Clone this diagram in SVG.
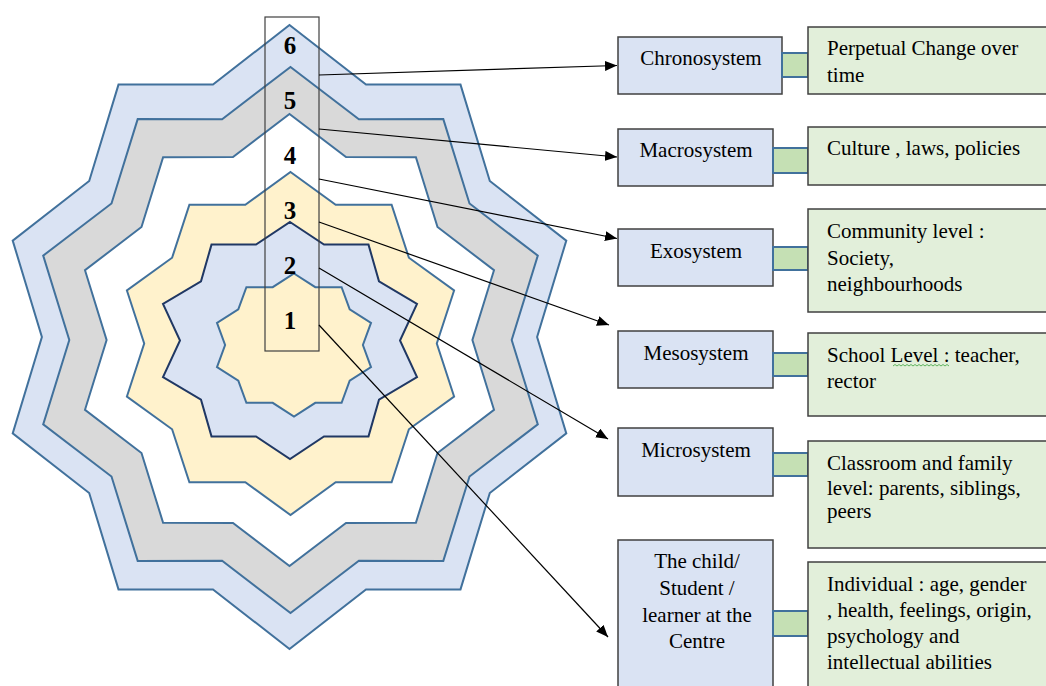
<svg xmlns="http://www.w3.org/2000/svg" width="1046" height="686" viewBox="0 0 1046 686">
<defs>
<style>
.ring{stroke:#41719C;stroke-width:2;stroke-linejoin:miter}
.num{font-family:"Liberation Serif",serif;font-weight:bold;font-size:25px;fill:#000;text-anchor:middle}
.sys{fill:#DAE3F3;stroke:#404040;stroke-width:1.5}
.desc{fill:#E2EFDA;stroke:#404040;stroke-width:1.5}
.link{fill:#C5E0B4;stroke:#41719C;stroke-width:2}
.lbl{font-family:"Liberation Serif",serif;font-size:21px;fill:#000}
.c{text-anchor:middle}
.arrow{fill:none;stroke:#000;stroke-width:1.2}
</style>
<marker id="ah" markerUnits="userSpaceOnUse" markerWidth="14" markerHeight="11" refX="12" refY="5" orient="auto">
<path d="M0,0 L12,5 L0,10 z" fill="#000"/>
</marker>
</defs>
<rect width="1046" height="686" fill="#fff"/>
<g id="layers">
<polygon id="layer6" class="ring" fill="#DAE3F3" points="289.5,25 366,84.6 460.5,84.6 489.8,181 566.3,240.6 537.1,337 566.3,433.4 489.8,493 460.5,589.4 366,589.4 289.5,649 213,589.4 118.5,589.4 89.2,493 12.7,433.4 41.9,337 12.7,240.6 89.2,181 118.5,84.6 213,84.6"/>
<polygon id="layer5" class="ring" fill="#D9D9D9" points="290.5,67 358.9,119.2 443.3,119.1 469.5,203.5 537.8,255.6 511.7,340 537.8,424.4 469.5,476.5 443.3,560.9 358.9,560.8 290.5,613 222.1,560.8 137.7,560.9 111.5,476.5 43.2,424.4 69.3,340 43.2,255.6 111.5,203.5 137.7,119.1 222.1,119.2"/>
<polygon id="layer4" class="ring" fill="#FFFFFF" points="289.5,114 346,157.1 415.9,157.2 437.5,227 494,270.2 472.4,340 494,409.8 437.5,453 415.9,522.8 346,522.9 289.5,566 233,522.9 163.1,522.8 141.5,453 85,409.8 106.6,340 85,270.2 141.5,227 163.1,157.2 233,157.1"/>
<polygon id="layer3" class="ring" fill="#FFF2CC" points="290.5,172 335.7,204.7 391.6,204.8 408.9,257.7 454.1,290.5 436.8,343.5 454.1,396.5 408.9,429.3 391.6,482.2 335.7,482.3 290.5,515 245.3,482.3 189.4,482.2 172.1,429.3 126.9,396.5 144.2,343.5 126.9,290.5 172.1,257.7 189.4,204.8 245.3,204.7"/>
<polygon id="layer2" fill="#DAE3F3" stroke="#203864" stroke-width="2" points="290,222 324,244.6 368.5,244.6 379,281.3 417,303.9 400,340.5 417,377.1 379,399.7 368.5,436.4 324,436.4 290,459 256,436.4 211.5,436.4 201,399.7 163,377.1 180,340.5 163,303.9 201,281.3 211.5,244.6 256,244.6"/>
<polygon id="layer1" class="ring" fill="#FFF2CC" points="294,273.5 315.3,287.2 341.6,287.2 349.7,309.3 371,322.9 362.9,345 371,367.1 349.7,380.7 341.6,402.8 315.3,402.8 294,416.5 272.7,402.8 246.4,402.8 238.3,380.7 217,367.1 225.1,345 217,322.9 238.3,309.3 246.4,287.2 272.7,287.2"/>
</g>
<g id="column">
<rect x="265" y="17" width="54" height="334" fill="none" stroke="#404040" stroke-width="1.2"/>
<text class="num" x="290" y="54">6</text>
<text class="num" x="290" y="108.5">5</text>
<text class="num" x="290" y="163.5">4</text>
<text class="num" x="290" y="218.5">3</text>
<text class="num" x="290" y="273.5">2</text>
<text class="num" x="290" y="328.5">1</text>
</g>
<g id="connectors">
<line class="arrow" marker-end="url(#ah)" x1="319" y1="75" x2="617" y2="65.5"/>
<line class="arrow" marker-end="url(#ah)" x1="319" y1="129" x2="617" y2="157"/>
<line class="arrow" marker-end="url(#ah)" x1="319" y1="179" x2="617" y2="238.5"/>
<line class="arrow" marker-end="url(#ah)" x1="319" y1="222" x2="609" y2="325"/>
<line class="arrow" marker-end="url(#ah)" x1="319" y1="268" x2="608" y2="439"/>
<line class="arrow" marker-end="url(#ah)" x1="319" y1="325" x2="608" y2="637"/>
</g>
<g id="chronosystem">
<rect class="sys" x="618" y="37" width="164" height="57"/>
<text class="lbl c" x="701" y="65">Chronosystem</text>
<rect class="link" x="782" y="53" width="26" height="24"/>
<rect class="desc" x="808" y="27" width="245" height="67"/>
<text class="lbl" x="827" y="55">Perpetual Change over</text>
<text class="lbl" x="827" y="82">time</text>
</g>
<g id="macrosystem">
<rect class="sys" x="618" y="129" width="155" height="57"/>
<text class="lbl c" x="696" y="157">Macrosystem</text>
<rect class="link" x="773" y="148" width="35" height="25"/>
<rect class="desc" x="808" y="127" width="245" height="58"/>
<text class="lbl" x="827" y="155">Culture , laws, policies</text>
</g>
<g id="exosystem">
<rect class="sys" x="618" y="229" width="155" height="57"/>
<text class="lbl c" x="696" y="258">Exosystem</text>
<rect class="link" x="773" y="247" width="35" height="23"/>
<rect class="desc" x="808" y="209" width="245" height="103"/>
<text class="lbl" x="827" y="238">Community level :</text>
<text class="lbl" x="827" y="265">Society,</text>
<text class="lbl" x="827" y="291">neighbourhoods</text>
</g>
<g id="mesosystem">
<rect class="sys" x="618" y="331" width="155" height="57"/>
<text class="lbl c" x="696" y="360">Mesosystem</text>
<rect class="link" x="773" y="353" width="35" height="23"/>
<rect class="desc" x="808" y="333" width="245" height="83"/>
<text class="lbl" x="827" y="362">School Level : teacher,</text>
<text class="lbl" x="827" y="388">rector</text>
<path d="M893,366 l2,-1.5 l2,1.5 l2,-1.5 l2,1.5 l2,-1.5 l2,1.5 l2,-1.5 l2,1.5 l2,-1.5 l2,1.5 l2,-1.5 l2,1.5 l2,-1.5 l2,1.5 l2,-1.5 l2,1.5 l2,-1.5 l2,1.5 l2,-1.5 l2,1.5 l2,-1.5 l2,1.5 l2,-1.5 l2,1.5 l2,-1.5 l2,1.5 l2,-1.5 l2,1.5" fill="none" stroke="#3CA33C" stroke-width="0.8"/>
</g>
<g id="microsystem">
<rect class="sys" x="618" y="428" width="155" height="68"/>
<text class="lbl c" x="696" y="457">Microsystem</text>
<rect class="link" x="773" y="453" width="35" height="23"/>
<rect class="desc" x="808" y="441" width="245" height="107"/>
<text class="lbl" x="827" y="470">Classroom and family</text>
<text class="lbl" x="827" y="495">level: parents, siblings,</text>
<text class="lbl" x="827" y="518">peers</text>
</g>
<g id="child">
<rect class="sys" x="618" y="540" width="155" height="160"/>
<text class="lbl c" x="697" y="568">The child/</text>
<text class="lbl c" x="697" y="595">Student /</text>
<text class="lbl c" x="697" y="622">learner at the</text>
<text class="lbl c" x="697" y="648">Centre</text>
<rect class="link" x="773" y="611" width="35" height="25"/>
<rect class="desc" x="808" y="562" width="245" height="140"/>
<text class="lbl" x="827" y="591">Individual : age, gender</text>
<text class="lbl" x="827" y="617">, health, feelings, origin,</text>
<text class="lbl" x="827" y="643">psychology and</text>
<text class="lbl" x="827" y="669">intellectual abilities</text>
</g>
</svg>
